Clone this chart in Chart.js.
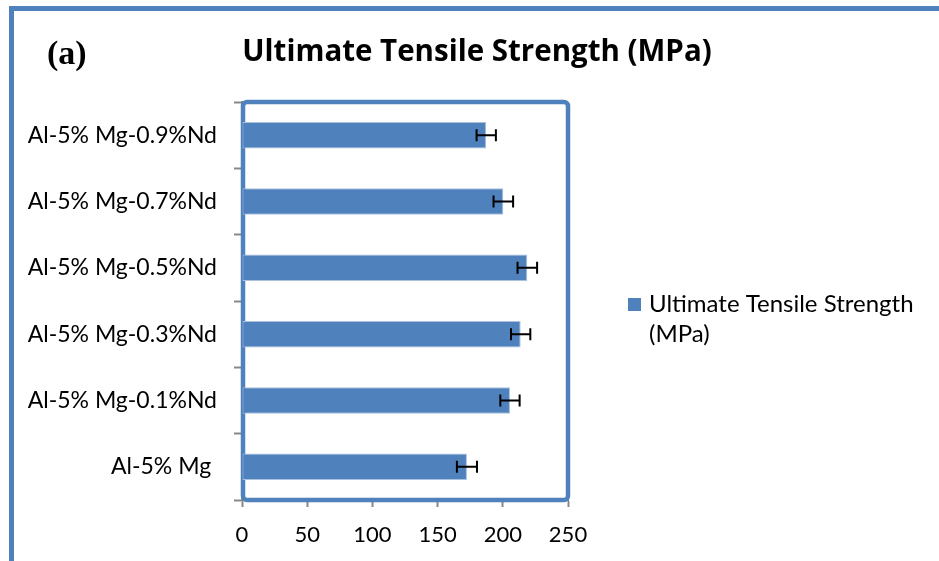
<!DOCTYPE html>
<html>
<head>
<meta charset="utf-8">
<script src="https://cdn.jsdelivr.net/npm/chart.js@4.4.1/dist/chart.umd.min.js"></script>
<style>
  html, body { margin: 0; padding: 0; background: #fff; }
  #wrap { width: 939px; height: 561px; position: relative; }
</style>
</head>
<body>
<div id="wrap"><canvas id="c" width="939" height="561"></canvas></div>
<script>
// Alloy compositions, listed bottom to top
const categories = [
  'Al-5% Mg ',
  'Al-5% Mg-0.1%Nd',
  'Al-5% Mg-0.3%Nd',
  'Al-5% Mg-0.5%Nd',
  'Al-5% Mg-0.7%Nd',
  'Al-5% Mg-0.9%Nd'
];
// Ultimate tensile strength (MPa)
const utsValues = [172.5, 205.5, 213.7, 218.8, 200.4, 187.3];
// Standard deviation (MPa)
const utsErrors = [7.7, 7.4, 7.4, 7.5, 7.5, 7.4];
const xTicks = [0, 50, 100, 150, 200, 250];

const seriesLabel = 'Ultimate Tensile Strength (MPa)';
const chartTitle = 'Ultimate Tensile Strength (MPa)';
const panelTag = '(a)';

const BLUE = '#4F81BD';
const FONT = 'Lato, "Open Sans", sans-serif';

// Outer frame, heading and panel tag
const framePlugin = {
  id: 'frame',
  beforeDraw(chart) {
    const ctx = chart.ctx;
    ctx.save();
    ctx.fillStyle = '#fff';
    ctx.fillRect(0, 0, chart.width, chart.height);
    ctx.strokeStyle = BLUE;
    ctx.lineWidth = 5;
    ctx.beginPath();
    ctx.moveTo(11.5, chart.height + 5);
    ctx.lineTo(11.5, 8.5);
    ctx.lineTo(chart.width + 5, 8.5);
    ctx.stroke();

    ctx.fillStyle = '#000';
    ctx.textBaseline = 'alphabetic';
    ctx.font = 'bold 34px "Liberation Serif", serif';
    ctx.textAlign = 'left';
    ctx.fillText(panelTag, 47, 64);
    ctx.font = 'bold 29.5px "Open Sans", sans-serif';
    ctx.textAlign = 'center';
    ctx.fillText(chartTitle, 477, 61);
    ctx.restore();
  },
  beforeDatasetsDraw(chart) {
    // plot-area border
    const a = chart.chartArea;
    const ctx = chart.ctx;
    ctx.save();
    ctx.strokeStyle = BLUE;
    ctx.lineWidth = 4.5;
    ctx.lineJoin = 'round';
    ctx.beginPath();
    if (ctx.roundRect) ctx.roundRect(a.left + 1, a.top, a.right - a.left - 1, a.bottom - a.top, 4);
    else ctx.rect(a.left + 1, a.top, a.right - a.left - 1, a.bottom - a.top);
    ctx.stroke();
    ctx.restore();
  }
};

// Error bars drawn from the same arrays through the x scale
const errorBarPlugin = {
  id: 'errorBars',
  afterDatasetsDraw(chart) {
    const ctx = chart.ctx;
    const xs = chart.scales.x;
    const meta = chart.getDatasetMeta(0);
    ctx.save();
    ctx.strokeStyle = '#000';
    ctx.lineWidth = 2;
    meta.data.forEach((bar, i) => {
      const v = utsValues[i], e = utsErrors[i];
      const x1 = xs.getPixelForValue(v - e);
      const x2 = xs.getPixelForValue(v + e);
      const y = bar.y;
      ctx.beginPath();
      ctx.moveTo(x1, y); ctx.lineTo(x2, y);
      ctx.moveTo(x1, y - 6); ctx.lineTo(x1, y + 6);
      ctx.moveTo(x2, y - 6); ctx.lineTo(x2, y + 6);
      ctx.stroke();
    });
    ctx.restore();
  }
};

// Legend on the right with wrapped text
const sideLegendPlugin = {
  id: 'sideLegend',
  afterDraw(chart) {
    const ctx = chart.ctx;
    const ds = chart.data.datasets[0];
    ctx.save();
    ctx.fillStyle = ds.backgroundColor;
    ctx.fillRect(628, 298, 13, 13);
    ctx.fillStyle = '#000';
    ctx.font = '24px ' + FONT;
    ctx.textAlign = 'left';
    ctx.textBaseline = 'alphabetic';
    const words = ds.label.split(' ');
    const lines = [words.slice(0, 3).join(' '), words.slice(3).join(' ')];
    lines.forEach((ln, k) => ctx.fillText(ln, 649, 312 + k * 30));
    ctx.restore();
  }
};

new Chart(document.getElementById('c'), {
  type: 'bar',
  data: {
    labels: categories,
    datasets: [{
      label: seriesLabel,
      data: utsValues,
      backgroundColor: BLUE,
      borderColor: '#A9C0DE',
      borderWidth: 1,
      borderSkipped: false,
      categoryPercentage: 1.0,
      barPercentage: 0.4
    }]
  },
  options: {
    indexAxis: 'y',
    responsive: false,
    animation: false,
    devicePixelRatio: 1,
    layout: { padding: { left: 0, top: 102, right: 371, bottom: 0 } },
    plugins: {
      legend: { display: false },
      title: { display: false },
      tooltip: { enabled: false }
    },
    scales: {
      x: {
        min: 0, max: 250,
        afterBuildTicks(scale) { scale.ticks = xTicks.map(v => ({ value: v })); },
        afterFit(scale) { scale.height = 61; },
        grid: { drawOnChartArea: false, tickLength: 7, color: '#888', tickWidth: 2 },
        border: { display: true, color: BLUE, width: 2 },
        ticks: { color: '#000', font: { size: 22, family: FONT }, padding: 15, maxRotation: 0 }
      },
      y: {
        reverse: true,
        offset: true,
        afterFit(scale) { scale.width = 242; },
        grid: { offset: true, drawOnChartArea: false, tickLength: 8, color: '#888', tickWidth: 2 },
        border: { display: true, color: '#888', width: 2 },
        ticks: { color: '#000', font: { size: 23, family: FONT }, padding: 17, crossAlign: 'near' }
      }
    }
  },
  plugins: [framePlugin, errorBarPlugin, sideLegendPlugin]
});
</script>
</body>
</html>
